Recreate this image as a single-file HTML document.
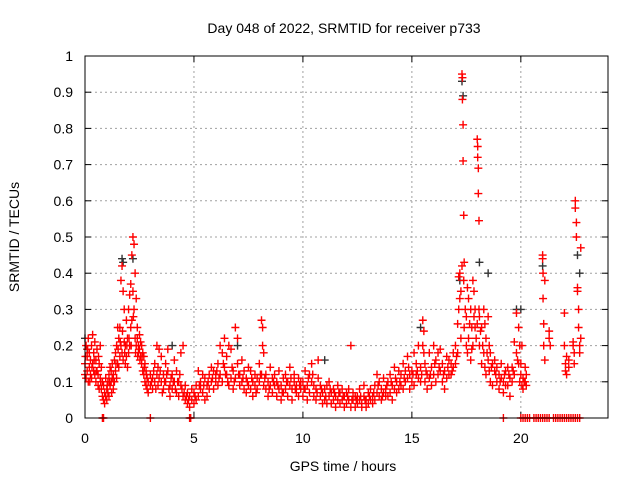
<!DOCTYPE html>
<html><head><meta charset="utf-8"><style>
html,body{margin:0;padding:0;background:#fff}
svg{display:block;font-family:"Liberation Sans",sans-serif}
</style></head><body>
<svg id="chart" width="640" height="480" viewBox="0 0 640 480" xmlns="http://www.w3.org/2000/svg">
<rect width="640" height="480" fill="#fff"/>
<text x="344" y="33" font-size="14" text-anchor="middle">Day 048 of 2022, SRMTID for receiver p733</text>
<text x="343" y="471" font-size="14" text-anchor="middle">GPS time / hours</text>
<text transform="translate(19,237) rotate(-90)" font-size="14" text-anchor="middle">SRMTID / TECUs</text>
<g id="grid"></g>
<g id="ticks"></g>
<g id="black"></g>
<g id="red"></g>
<rect x="85" y="56" width="523" height="362" fill="none" stroke="#000" stroke-width="1"/>
</svg>
<script>
const xTicks=[0,5,10,15,20];
const yTicks=[0,0.1,0.2,0.3,0.4,0.5,0.6,0.7,0.8,0.9,1];
const yTickLabels=["0","0.1","0.2","0.3","0.4","0.5","0.6","0.7","0.8","0.9","1"];
const redA=[[0,.15],[0,.12],[.05,.2],[.05,.11],[.1,.17],[.1,.13],[.15,.1],[.15,.22],[.2,.14],[.2,.18],[.25,.12],[.25,.16],[.3,.2],[.3,.11],[.35,.15],[.35,.23],[.4,.13],[.4,.18],[.45,.21],[.45,.12],[.5,.16],[.5,.1],[.55,.19],[.55,.13],[.6,.12],[.6,.09],[.65,.15],[.65,.08],[.7,.11],[.7,.2],[.75,.08],[.75,.14],[.8,.06],[.8,.1],[.85,.05],[.85,.09],[.9,.07],[.9,.04],[.95,.06],[.95,.11],[1,.05],[1,.08],[1.05,.1],[1.05,.07],[1.1,.12],[1.1,.06],[1.15,.09],[1.15,.14],[1.2,.13],[1.2,.1],[1.25,.15],[1.25,.11],[1.3,.12],[1.3,.08],[1.35,.16],[1.35,.1],[1.4,.13],[1.4,.18],[1.45,.2],[1.45,.11],[1.5,.25],[1.5,.15],[1.55,.22],[1.55,.14],[1.6,.25],[1.6,.17],[1.65,.38],[1.65,.2],[1.7,.42],[1.7,.18],[1.75,.35],[1.75,.16],[1.8,.3],[1.8,.21],[1.85,.2],[1.85,.15],[1.9,.17],[1.9,.27],[1.95,.22],[1.95,.14],[2,.3],[2,.18],[2.05,.34],[2.05,.2],[2.1,.37],[2.1,.25],[2.15,.45],[2.15,.27],[2.2,.5],[2.2,.35],[2.25,.48],[2.25,.3],[2.3,.4],[2.3,.22],[2.35,.33],[2.35,.2],[2.4,.25],[2.4,.22],[2.45,.2],[2.45,.18],[2.5,.19],[2.5,.23],[2.55,.17],[2.55,.21],[2.6,.2],[2.6,.15],[2.65,.18],[2.65,.13],[2.7,.12],[2.7,.17],[2.75,.1],[2.75,.15],[2.8,.09],[2.8,.13],[2.85,.08],[2.85,.11],[2.9,.1],[2.9,.07],[3,.09],[3,.12],[3.1,.08],[3.1,.11],[3.2,.15],[3.2,.1],[3.3,.2],[3.3,.12],[3.35,.14],[3.35,.09],[3.4,.19],[3.4,.11],[3.5,.17],[3.5,.1],[3.6,.12],[3.6,.08],[3.7,.1],[3.7,.15],[3.8,.19],[3.8,.13],[3.9,.09],[3.9,.06],[4,.08],[4,.12],[4.1,.16],[4.1,.1],[4.2,.07],[4.2,.13],[4.3,.06],[4.3,.1],[4.4,.09],[4.4,.18],[4.5,.06],[4.5,.2],[4.6,.05],[4.6,.09],[4.7,.04],[4.7,.07],[4.8,.06],[4.8,.03],[4.9,.05],[4.9,.08]];
const redB=[[5,.07],[5,.04],[5.1,.09],[5.1,.05],[5.2,.13],[5.2,.06],[5.3,.1],[5.3,.08],[5.4,.07],[5.4,.12],[5.5,.11],[5.5,.05],[5.6,.09],[5.6,.06],[5.7,.12],[5.7,.08],[5.8,.1],[5.8,.14],[5.9,.08],[5.9,.13],[6,.12],[6,.1],[6.1,.15],[6.1,.09],[6.2,.2],[6.2,.12],[6.3,.18],[6.3,.1],[6.4,.22],[6.4,.14],[6.5,.17],[6.5,.12],[6.6,.2],[6.6,.09],[6.7,.19],[6.7,.11],[6.8,.13],[6.8,.08],[6.9,.11],[6.9,.25],[7,.22],[7,.15],[7.1,.12],[7.1,.09],[7.2,.1],[7.2,.16],[7.3,.08],[7.3,.13],[7.4,.11],[7.4,.07],[7.5,.09],[7.5,.14],[7.6,.13],[7.6,.08],[7.7,.1],[7.7,.06],[7.8,.12],[7.8,.09],[7.9,.08],[7.9,.11],[8,.15],[8,.1],[8.1,.27],[8.1,.12],[8.15,.25],[8.15,.2],[8.2,.18],[8.2,.09],[8.3,.12],[8.3,.08],[8.4,.1],[8.4,.06],[8.5,.14],[8.5,.09],[8.6,.11],[8.6,.07],[8.7,.09],[8.7,.12],[8.8,.06],[8.8,.1],[8.9,.13],[8.9,.08],[9,.09],[9,.05],[9.1,.11],[9.1,.07],[9.2,.08],[9.2,.12],[9.3,.06],[9.3,.1],[9.4,.14],[9.4,.09],[9.5,.08],[9.5,.05],[9.6,.1],[9.6,.12],[9.7,.07],[9.7,.09],[9.8,.11],[9.8,.06],[9.9,.08],[9.9,.1]];
const redC=[[10,.1],[10,.06],[10.1,.13],[10.1,.08],[10.2,.09],[10.2,.05],[10.3,.12],[10.3,.07],[10.4,.15],[10.4,.1],[10.5,.09],[10.5,.06],[10.6,.08],[10.6,.05],[10.7,.11],[10.7,.16],[10.8,.06],[10.8,.09],[10.9,.07],[10.9,.04],[11,.05],[11,.08],[11.1,.09],[11.1,.04],[11.2,.06],[11.2,.1],[11.3,.04],[11.3,.07],[11.4,.08],[11.4,.05],[11.5,.06],[11.5,.03],[11.6,.09],[11.6,.05],[11.7,.07],[11.7,.04],[11.8,.05],[11.8,.08],[11.9,.06],[11.9,.03],[12,.04],[12,.07],[12.1,.08],[12.1,.05],[12.2,.2],[12.2,.03],[12.3,.05],[12.3,.07],[12.4,.03],[12.4,.06],[12.5,.06],[12.5,.04],[12.6,.08],[12.6,.05],[12.7,.04],[12.7,.03],[12.8,.06],[12.8,.09],[12.9,.05],[12.9,.03],[13,.07],[13,.04],[13.1,.05],[13.1,.08],[13.2,.06],[13.2,.04],[13.3,.09],[13.3,.05],[13.4,.07],[13.4,.12],[13.5,.1],[13.5,.06],[13.6,.05],[13.6,.08],[13.7,.11],[13.7,.07],[13.8,.08],[13.8,.06],[13.9,.06],[13.9,.1],[14,.12],[14,.07],[14.1,.09],[14.1,.05],[14.2,.14],[14.2,.08],[14.3,.1],[14.3,.07],[14.4,.08],[14.4,.13],[14.5,.12],[14.5,.09],[14.6,.15],[14.6,.08],[14.7,.1],[14.7,.13],[14.8,.17],[14.8,.11],[14.9,.12],[14.9,.08]];
const redD=[[15,.13],[15,.1],[15.1,.18],[15.1,.09],[15.2,.12],[15.2,.15],[15.3,.2],[15.3,.11],[15.4,.1],[15.4,.14],[15.5,.27],[15.5,.2],[15.55,.24],[15.55,.18],[15.6,.15],[15.6,.1],[15.7,.12],[15.7,.08],[15.8,.18],[15.8,.11],[15.9,.14],[15.9,.09],[16,.2],[16,.12],[16.1,.16],[16.1,.1],[16.2,.12],[16.2,.18],[16.3,.19],[16.3,.13],[16.4,.1],[16.4,.15],[16.5,.13],[16.5,.08],[16.6,.11],[16.6,.17],[16.7,.16],[16.7,.12],[16.8,.12],[16.8,.15],[16.9,.18],[16.9,.14],[17,.2],[17,.15],[17.1,.26],[17.1,.18],[17.15,.39],[17.15,.3],[17.2,.4],[17.2,.33],[17.25,.35],[17.25,.22],[17.3,.95],[17.3,.42],[17.32,.94],[17.32,.88],[17.35,.81],[17.35,.71],[17.38,.56],[17.38,.38],[17.4,.43],[17.4,.25],[17.5,.28],[17.5,.2],[17.55,.36],[17.55,.18],[17.6,.33],[17.6,.22],[17.7,.3],[17.7,.16],[17.75,.25],[17.75,.19],[17.8,.38],[17.8,.2],[17.85,.35],[17.85,.28],[17.9,.3],[17.9,.25],[18,.77],[18,.26],[18.02,.75],[18.02,.72],[18.05,.69],[18.05,.62],[18.08,.545],[18.08,.3],[18.1,.28],[18.1,.2],[18.2,.25],[18.2,.15],[18.3,.3],[18.3,.18],[18.35,.26],[18.35,.14],[18.4,.22],[18.4,.12],[18.5,.28],[18.5,.16],[18.55,.2],[18.55,.13],[18.6,.18],[18.6,.1],[18.7,.15],[18.7,.09],[18.8,.13],[18.8,.16],[18.9,.1],[18.9,.14],[19,.12],[19,.08],[19.1,.15],[19.1,.11],[19.2,.1],[19.2,.07],[19.3,.13],[19.3,.09],[19.4,.09],[19.4,.14],[19.5,.11],[19.5,.06],[19.6,.14],[19.6,.1],[19.7,.21],[19.7,.12],[19.8,.18],[19.8,.29],[19.9,.25],[19.9,.15],[19.95,.2],[19.95,.1]];
const redE=[[20,.15],[20,.12],[20.05,.2],[20.05,.09],[20.1,.11],[20.1,.08],[20.2,.14],[20.2,.1],[20.25,.12],[20.25,.09],[21,.45],[21,.44],[21.02,.4],[21.02,.33],[21.05,.26],[21.05,.2],[21.1,.16],[21.1,.38],[21.3,.24],[21.3,.22],[21.35,.2],[22,.29],[22,.2],[22.05,.15],[22.05,.13],[22.1,.17],[22.1,.12],[22.2,.16],[22.2,.14],[22.4,.2],[22.4,.21],[22.45,.18],[22.45,.15],[22.5,.6],[22.5,.58],[22.55,.54],[22.55,.5],[22.6,.36],[22.6,.35],[22.65,.3],[22.65,.25],[22.7,.2],[22.7,.18],[22.75,.47],[22.75,.22]];
const redF=[[.02,.17],[.12,.19],[.22,.1],[.32,.14],[.42,.16],[.52,.13],[.62,.17],[.72,.1],[1.02,.09],[1.12,.1],[1.22,.07],[1.32,.1],[1.42,.15],[1.52,.19],[1.62,.21],[1.72,.24],[1.82,.18],[1.92,.2],[2.02,.22],[2.12,.2],[2.22,.28],[2.32,.18],[2.42,.17],[2.52,.16],[2.62,.17],[2.72,.14],[2.82,.12],[3.05,.1],[3.15,.13],[3.25,.08],[3.45,.13],[3.55,.07],[3.65,.1],[3.75,.12],[3.85,.08],[3.95,.11],[4.05,.1],[4.15,.08],[4.25,.1],[4.35,.12],[4.45,.08],[4.55,.07],[4.65,.06],[4.75,.05],[5.05,.06],[5.25,.09],[5.45,.09],[5.65,.1],[5.85,.11],[6.05,.13],[6.15,.11],[6.35,.15],[6.45,.12],[6.55,.1],[6.75,.14],[6.85,.1],[7.05,.12],[7.25,.11],[7.45,.1],[7.65,.11],[7.85,.07],[8.05,.12],[8.25,.11],[8.45,.08],[8.65,.1],[8.85,.09],[9.05,.07],[9.25,.1],[9.45,.11],[9.65,.08],[9.85,.09],[10.05,.08],[10.25,.11],[10.45,.12],[10.65,.07],[10.85,.08],[11.05,.06],[11.25,.08],[11.45,.07],[11.65,.07],[11.85,.06],[12.05,.06],[12.25,.05],[12.45,.05],[12.65,.06],[12.85,.05],[13.05,.06],[13.25,.07],[13.45,.09],[13.65,.06],[13.85,.09],[14.05,.1],[14.25,.11],[14.45,.1],[14.65,.11],[14.85,.14],[15.05,.12],[15.25,.13],[15.45,.12],[15.65,.13],[15.85,.12],[16.05,.15],[16.25,.14],[16.45,.12],[16.65,.14],[16.85,.13],[17.05,.17],[17.45,.3],[17.65,.26],[17.95,.22],[18.15,.24],[18.25,.2],[18.45,.18],[18.65,.14],[18.85,.12],[19.05,.1],[19.25,.12],[19.45,.12],[19.65,.13],[19.85,.16],[20.15,.1]];
const redZero=[0.8,0.85,3.0,4.8,4.85,19.2,20.0,20.1,20.2,20.3,20.4,20.6,20.7,20.8,20.9,21.0,21.1,21.2,21.3,21.5,21.6,21.7,21.8,21.9,22.0,22.1,22.2,22.3,22.4,22.5,22.6,22.7];
const blackPts=[[0,.22],[0.1,.19],[1.7,.44],[1.75,.43],[2.2,.44],[4,.2],[7,.2],[11,.16],[15.4,.25],[17.3,.93],[17.35,.89],[17.2,.38],[18.1,.43],[18.5,.4],[19.8,.3],[20,.3],[21,.42],[22.6,.45],[22.7,.4]];

const X0=85,X1=608,Y0=418,Y1=56,XMAX=24;
const sx=v=>X0+(X1-X0)*v/XMAX;
const sy=v=>Y0-(Y0-Y1)*v;
const NS='http://www.w3.org/2000/svg';
function mk(tag,attrs,parent){const e=document.createElementNS(NS,tag);for(const k in attrs)e.setAttribute(k,attrs[k]);parent.appendChild(e);return e;}
const grid=document.getElementById('grid'),ticks=document.getElementById('ticks');
xTicks.forEach(t=>{const x=sx(t);
 if(t>0){const g=mk('line',{x1:x,x2:x,y1:Y0,y2:Y1,stroke:'#a0a0a0','stroke-dasharray':'2,3'},grid);
 
 }
 const a=mk('line',{x1:x,x2:x,y1:Y0,y2:Y0-6,stroke:'#000'},ticks);
 
 
 const b=mk('line',{x1:x,x2:x,y1:Y1,y2:Y1+6,stroke:'#000'},ticks);
 
 
 const l=mk('text',{x:x,y:443,'font-size':'14','text-anchor':'middle'},ticks);l.textContent=String(t);
 
 
});
yTicks.forEach((t,i)=>{const y=sy(t);
 if(t>0&&t<1){const g=mk('line',{x1:X0,x2:X1,y1:y,y2:y,stroke:'#a0a0a0','stroke-dasharray':'2,3'},grid);
 
 }
 const a=mk('line',{x1:X0,x2:X0+6,y1:y,y2:y,stroke:'#000'},ticks);
 
 
 const b=mk('line',{x1:X1,x2:X1-6,y1:y,y2:y,stroke:'#000'},ticks);
 
 
 const l=mk('text',{x:73,y:y+5,'font-size':'14','text-anchor':'end'},ticks);l.textContent=yTickLabels[i];
 
 
});
function plus(g,t,v,col){const x=sx(t),y=sy(v);
 const p=mk('path',{d:`M${x-4} ${y}H${x+4}M${x} ${y-4}V${y+4}`,stroke:col,'stroke-width':'1.4',fill:'none'},g);
 
 }
const gb=document.getElementById('black'),gr=document.getElementById('red');
blackPts.forEach(p=>plus(gb,p[0],p[1],'#333'));
[redA,redB,redC,redD,redE,redF].forEach(s=>s.forEach(p=>plus(gr,p[0],p[1],'#ff0000')));
redZero.forEach(t=>plus(gr,t,0,'#ff0000'));
</script>
</body></html>
